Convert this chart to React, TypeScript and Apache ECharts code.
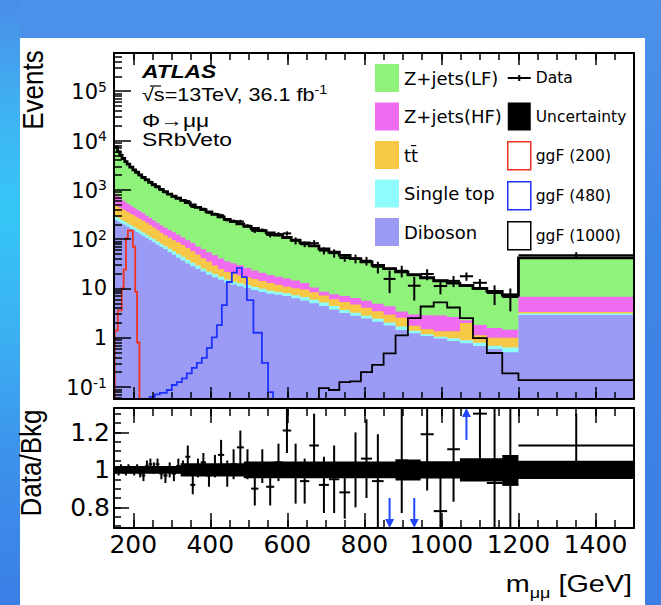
import React, { useEffect, useRef } from 'react';
import * as echarts from 'echarts';

// ---------------- data ----------------
const binEdges = [150, 159, 165, 171, 178, 184, 191, 199, 206, 214, 222, 231, 240, 249, 258, 268, 278, 289, 300, 311, 323, 335, 348, 361, 375, 389, 404, 420, 436, 452, 469, 487, 506, 525, 545, 566, 588, 610, 633, 657, 682, 708, 735, 763, 791, 820, 850, 881, 913, 946, 980, 1015, 1048, 1082, 1118, 1158, 1200, 1500];

const diboson = [241, 225, 213, 200, 188, 176, 163, 151, 139, 127, 116, 105, 95, 86, 77, 69, 62, 54, 48, 42, 37, 32, 28, 25, 22, 19, 16.9, 15.0, 13.2, 12.0, 11.1, 10.2, 9.3, 8.5, 7.8, 7.4, 7.0, 6.3, 5.7, 5.0, 4.4, 3.75, 3.18, 2.8, 2.44, 2.1, 1.77, 1.44, 1.23, 1.08, 0.96, 0.86, 0.77, 0.68, 0.59, 0.51, 2.88];
const singleTop = [42, 39, 37, 36, 33, 31, 28, 26, 24, 22, 20, 18, 16, 15, 14, 12, 10, 10, 9, 8, 7, 6, 5, 4, 3, 3, 2.6, 2.2, 1.9, 1.8, 1.6, 1.5, 1.4, 1.3, 1.2, 1.1, 1.0, 1.0, 1.0, 0.9, 0.8, 0.65, 0.48, 0.4, 0.36, 0.32, 0.27, 0.25, 0.16, 0.10, 0.09, 0.11, 0.12, 0.11, 0.10, 0.12, 0.21];
const ttbar = [198, 185, 175, 164, 154, 144, 134, 124, 116, 109, 100, 91, 82, 73, 63, 54, 48, 42, 38, 36, 32, 28, 24, 20, 16, 13, 9.5, 7.3, 6.4, 5.7, 5.5, 5.1, 4.8, 4.3, 3.9, 3.3, 2.8, 2.8, 2.8, 2.5, 2.0, 1.6, 1.64, 1.5, 1.25, 1.02, 0.9, 0.86, 0.36, 0.31, 0.31, 0.38, 1.11, 0.33, 0.31, 0.37, 0.22];
const zjetsHF = [347, 287, 246, 207, 185, 165, 148, 134, 121, 108, 97, 85, 75, 67, 61, 56, 51, 47, 42, 36, 32, 29, 26, 22, 21, 19, 18, 16.1, 14.1, 12.8, 11.3, 9.0, 7.6, 6.6, 5.8, 5.5, 5.1, 4.3, 3.4, 2.0, 1.4, 1.6, 1.7, 1.7, 1.55, 1.46, 1.4, 0.87, 1.2, 1.37, 1.46, 1.27, 0.25, 0.70, 0.58, 0.45, 3.45];
const zjetsLF = [6517, 5234, 4387, 3708, 3173, 2795, 2411, 2100, 1870, 1652, 1453, 1290, 1148, 1027, 928, 832, 747, 667, 604, 552, 503, 456, 411, 371, 334, 302, 271, 241, 215, 193, 174, 156, 141, 128, 115, 104, 92, 80.6, 70.7, 62.6, 54.8, 47.1, 40.0, 33.9, 28.8, 24.3, 20.8, 18.3, 15.95, 13.6, 11.5, 10.2, 9.15, 8.18, 7.11, 5.83, 34.9];

const dataOverBkg = [1.00, 0.99, 1.01, 1.00, 0.99, 1.01, 1.00, 0.99, 1.01, 0.98, 0.97, 1.02, 1.03, 1.01, 1.03, 0.98, 0.97, 1.00, 0.98, 1.02, 1.01, 1.07, 0.92, 1.01, 1.04, 0.97, 1.02, 1.08, 0.98, 1.03, 1.12, 1.03, 0.90, 1.02, 0.91, 1.04, 1.21, 0.98, 0.94, 1.13, 0.92, 0.95, 0.88, 1.00, 1.06, 0.94, 0.62, 1.05, 0.60, 1.19, 0.78, 1.11, 1.55, 1.30, 0.93, 0.92, 1.13];
const dataOverBkgErr = [0.02, 0.02, 0.02, 0.02, 0.02, 0.02, 0.02, 0.02, 0.02, 0.02, 0.03, 0.03, 0.03, 0.03, 0.03, 0.03, 0.04, 0.04, 0.04, 0.04, 0.04, 0.06, 0.05, 0.05, 0.05, 0.06, 0.06, 0.08, 0.07, 0.08, 0.09, 0.08, 0.09, 0.09, 0.10, 0.10, 0.12, 0.16, 0.12, 0.17, 0.15, 0.18, 0.14, 0.20, 0.21, 0.25, 0.30, 0.28, 0.30, 0.30, 0.25, 0.28, 0.30, 0.25, 0.40, 0.45, 0.17];
const bkgRelUnc = [0.021, 0.021, 0.021, 0.021, 0.021, 0.021, 0.021, 0.021, 0.021, 0.021, 0.021, 0.021, 0.021, 0.021, 0.021, 0.021, 0.021, 0.021, 0.021, 0.021, 0.035, 0.035, 0.035, 0.035, 0.035, 0.035, 0.035, 0.035, 0.035, 0.035, 0.035, 0.045, 0.045, 0.045, 0.045, 0.045, 0.045, 0.045, 0.045, 0.045, 0.045, 0.045, 0.045, 0.045, 0.045, 0.045, 0.045, 0.056, 0.056, 0.046, 0.046, 0.046, 0.062, 0.062, 0.062, 0.08, 0.049];

const ggF200Edges = [152, 160, 170, 175, 181, 186, 192, 199, 205, 210, 216];
const ggF200 = [1.4, 3.6, 10, 24, 105, 150, 148, 70, 8.5, 0.8];
const ggF480Edges = [243, 256, 269, 287, 300, 313, 326, 339, 352, 365, 378, 391, 404, 417, 430, 443, 456, 469, 482, 495, 512, 534, 550, 563];
const ggF480 = [0.063, 0.071, 0.076, 0.087, 0.11, 0.126, 0.15, 0.19, 0.245, 0.31, 0.39, 0.62, 1.02, 1.8, 4.6, 13.5, 21, 26, 17, 5.8, 1.26, 0.31, 0.079];
const ggF1000Edges = [682, 708, 735, 763, 791, 820, 850, 881, 913, 946, 980, 1015, 1048, 1082, 1118, 1158, 1200, 1500];
const ggF1000 = [0.095, 0.087, 0.126, 0.13, 0.20, 0.28, 0.48, 1.12, 2.5, 4.3, 5.2, 4.1, 2.5, 0.98, 0.49, 0.19, 0.138];

const xMajorTicks = [200, 400, 600, 800, 1000, 1200, 1400];
const xMinorTicks = [200, 250, 300, 350, 400, 450, 500, 550, 600, 650, 700, 750, 800, 850, 900, 950, 1000, 1050, 1100, 1150, 1200, 1250, 1300, 1350, 1400, 1450];
const logMajorTicks = [-1, 0, 1, 2, 3, 4, 5];
const ratioMajorTicks = [0.8, 1, 1.2];
const ratioMinorTicks = [0.7, 0.75, 0.8, 0.85, 0.9, 0.95, 1, 1.05, 1.1, 1.15, 1.2, 1.25, 1.3];

// ---------------- layout / style ----------------
const X_MIN = 150, X_MAX = 1500;
const LOG_MIN = -1.243, LOG_MAX = 5.775;
const R_MIN = 0.69, R_MAX = 1.33;
const FONT = 'DejaVu Sans';
const C = {
  lf: '#8ff27b', hf: '#ef6bef', tt: '#f6c846', st: '#8efcfc', db: '#9b9bf5',
  red: '#f0321e', blue: '#1e32ff', arrow: '#2248ff', black: '#000000',
};

const logMinorTicks: number[] = [];
for (let k = -2; k <= 5; k++) {
  for (let d = 2; d <= 9; d++) {
    const v = k + Math.log10(d);
    if (v > LOG_MIN && v < LOG_MAX) logMinorTicks.push(v);
  }
}

const nBins = binEdges.length - 1;
const cumDB = diboson.slice();
const cumST = cumDB.map((v, i) => v + singleTop[i]);
const cumTT = cumST.map((v, i) => v + ttbar[i]);
const cumHF = cumTT.map((v, i) => v + zjetsHF[i]);
const totalBkg = cumHF.map((v, i) => v + zjetsLF[i]);

const lg = (v: number) => (v > 0 ? Math.log10(v) : LOG_MIN - 1);
const cy = (y: number) => Math.max(LOG_MIN, Math.min(LOG_MAX, y));
const cr = (r: number) => Math.max(R_MIN, Math.min(R_MAX, r));

function stepFillRender(levels: number[], color: string) {
  return (_p: any, api: any) => {
    const pts: number[][] = [];
    levels.forEach((v, i) => {
      const y = cy(lg(v));
      pts.push(api.coord([binEdges[i], y]));
      pts.push(api.coord([binEdges[i + 1], y]));
    });
    pts.push(api.coord([X_MAX, LOG_MIN]));
    pts.push(api.coord([X_MIN, LOG_MIN]));
    return { type: 'polygon', shape: { points: pts }, style: { fill: color } };
  };
}

function stepLineRender(edges: number[], vals: number[], color: string) {
  return (_p: any, api: any) => {
    const pts: number[][] = [api.coord([edges[0], LOG_MIN])];
    vals.forEach((v, i) => {
      const y = cy(lg(v));
      pts.push(api.coord([edges[i], y]));
      pts.push(api.coord([edges[i + 1], y]));
    });
    const last = edges[edges.length - 1];
    if (last < X_MAX) pts.push(api.coord([last, LOG_MIN]));
    return { type: 'polyline', shape: { points: pts }, style: { stroke: color, lineWidth: 1.8, fill: null } };
  };
}

const uncUpperRender = (_p: any, api: any) => {
  const top: number[][] = [];
  const bot: number[][] = [];
  const line: number[][] = [];
  for (let i = 0; i < nBins; i++) {
    const t = totalBkg[i], u = bkgRelUnc[i];
    const yt = cy(lg(t * (1 + u))), yb = cy(lg(t * (1 - u))), y = cy(lg(t));
    top.push(api.coord([binEdges[i], yt]), api.coord([binEdges[i + 1], yt]));
    bot.push(api.coord([binEdges[i], yb]), api.coord([binEdges[i + 1], yb]));
    line.push(api.coord([binEdges[i], y]), api.coord([binEdges[i + 1], y]));
  }
  return {
    type: 'group',
    children: [
      { type: 'polygon', shape: { points: top.concat(bot.reverse()) }, style: { fill: '#000' } },
      { type: 'polyline', shape: { points: line }, style: { stroke: '#000', lineWidth: 2.8, fill: null } },
    ],
  };
};

const dataUpperRender = (_p: any, api: any) => {
  const i = api.value(2);
  const r = dataOverBkg[i];
  const n = r * totalBkg[i];
  const rel = Math.min(0.95, dataOverBkgErr[i] / r);
  const xc = (binEdges[i] + binEdges[i + 1]) / 2;
  const y = cy(lg(n));
  const a = api.coord([binEdges[i], y]);
  const b = api.coord([binEdges[i + 1], y]);
  const c1 = api.coord([xc, cy(lg(n * (1 + rel)))]);
  const c2 = api.coord([xc, cy(lg(n * (1 - rel)))]);
  const st = { stroke: '#000', lineWidth: 2 };
  return {
    type: 'group',
    children: [
      { type: 'line', shape: { x1: a[0], y1: a[1], x2: b[0], y2: b[1] }, style: st },
      { type: 'line', shape: { x1: c1[0], y1: c1[1], x2: c2[0], y2: c2[1] }, style: st },
    ],
  };
};

const uncRatioRender = (_p: any, api: any) => {
  const top: number[][] = [];
  const bot: number[][] = [];
  for (let i = 0; i < nBins; i++) {
    const u = bkgRelUnc[i];
    top.push(api.coord([binEdges[i], 1 + u]), api.coord([binEdges[i + 1], 1 + u]));
    bot.push(api.coord([binEdges[i], 1 - u]), api.coord([binEdges[i + 1], 1 - u]));
  }
  return { type: 'polygon', shape: { points: top.concat(bot.reverse()) }, style: { fill: '#000' } };
};

const dataRatioRender = (_p: any, api: any) => {
  const i = api.value(2);
  const r = dataOverBkg[i];
  if (r < R_MIN || r > R_MAX) return { type: 'group', children: [] };
  const e = dataOverBkgErr[i];
  const xc = (binEdges[i] + binEdges[i + 1]) / 2;
  const a = api.coord([binEdges[i], r]);
  const b = api.coord([binEdges[i + 1], r]);
  const c1 = api.coord([xc, cr(r + e)]);
  const c2 = api.coord([xc, cr(r - e)]);
  const st = { stroke: '#000', lineWidth: 2 };
  return {
    type: 'group',
    children: [
      { type: 'line', shape: { x1: a[0], y1: a[1], x2: b[0], y2: b[1] }, style: st },
      { type: 'line', shape: { x1: c1[0], y1: c1[1], x2: c2[0], y2: c2[1] }, style: st },
    ],
  };
};

const arrowRender = (_p: any, api: any) => {
  const i = api.value(2);
  const r = dataOverBkg[i];
  const xc = (binEdges[i] + binEdges[i + 1]) / 2;
  const down = r < R_MIN;
  const start = api.coord([xc, down ? 0.85 : 1.16]);
  const end = api.coord([xc, down ? R_MIN : R_MAX]);
  const h = down ? -9 : 9;
  return {
    type: 'group',
    children: [
      { type: 'line', shape: { x1: start[0], y1: start[1], x2: end[0], y2: end[1] + h }, style: { stroke: C.arrow, lineWidth: 2 } },
      { type: 'polygon', shape: { points: [[end[0] - 4.5, end[1] + h], [end[0] + 4.5, end[1] + h], [end[0], end[1]]] }, style: { fill: C.arrow } },
    ],
  };
};

// ---------------- axes ----------------
const axLine = { color: '#000', width: 2 };
function xAxis(gridIndex: number, position: string, ticks: number[], len: number, line: boolean, labels: boolean) {
  return {
    type: 'value', gridIndex, position, min: X_MIN, max: X_MAX, z: 10,
    axisLine: { show: line, onZero: false, lineStyle: axLine },
    axisTick: { show: true, inside: true, length: len, customValues: ticks, lineStyle: { color: '#000', width: 1.5 } },
    axisLabel: labels
      ? { show: true, customValues: xMajorTicks, margin: 4, fontSize: 25, fontFamily: FONT, color: '#000', formatter: (v: number) => String(v) }
      : { show: false },
    splitLine: { show: false },
  };
}
function yAxis(gridIndex: number, min: number, max: number, ticks: number[], len: number, line: boolean, label: any) {
  return {
    type: 'value', gridIndex, position: 'left', min, max, z: 10,
    axisLine: { show: line, onZero: false, lineStyle: axLine },
    axisTick: { show: true, inside: true, length: len, customValues: ticks, lineStyle: { color: '#000', width: 1.5 } },
    axisLabel: label || { show: false },
    splitLine: { show: false },
  };
}
function rightAxis(gridIndex: number, min: number, max: number) {
  return {
    type: 'value', gridIndex, position: 'right', min, max, z: 10,
    axisLine: { show: true, onZero: false, lineStyle: axLine },
    axisTick: { show: false }, axisLabel: { show: false }, splitLine: { show: false },
  };
}

const dataIcon = 'path://M0,0h0.05v0.05h-0.05z M0,13h23v2h-23z M10.5,11h2v6h-2z M22.95,27.95h0.05v0.05h-0.05z';

const option: any = {
  animation: false,
  grid: [
    { left: 114, top: 53, width: 520, height: 346 },
    { left: 114, top: 408, width: 520, height: 120 },
  ],
  xAxis: [
    xAxis(0, 'bottom', xMajorTicks, 12, true, false),
    xAxis(0, 'bottom', xMinorTicks, 7, false, false),
    xAxis(0, 'top', xMajorTicks, 12, true, false),
    xAxis(0, 'top', xMinorTicks, 7, false, false),
    xAxis(1, 'bottom', xMajorTicks, 15, true, true),
    xAxis(1, 'bottom', xMinorTicks, 8, false, false),
    xAxis(1, 'top', xMajorTicks, 15, true, false),
    xAxis(1, 'top', xMinorTicks, 8, false, false),
  ],
  yAxis: [
    yAxis(0, LOG_MIN, LOG_MAX, logMajorTicks, 17, true, {
      show: true, customValues: logMajorTicks, margin: 7,
      formatter: (v: number) => {
        const k = Math.round(v);
        if (k === 0) return '{b|1}';
        if (k === 1) return '{b|10}';
        return '{b|10}{s|' + k + '}';
      },
      rich: {
        b: { fontSize: 21, fontFamily: FONT, color: '#000', verticalAlign: 'bottom' },
        s: { fontSize: 14, fontFamily: FONT, color: '#000', verticalAlign: 'bottom', padding: [0, 0, 9, 0] },
      },
    }),
    yAxis(0, LOG_MIN, LOG_MAX, logMinorTicks, 8, false, null),
    rightAxis(0, LOG_MIN, LOG_MAX),
    yAxis(1, R_MIN, R_MAX, ratioMajorTicks, 15, true, {
      show: true, customValues: ratioMajorTicks, margin: 4, fontSize: 25, fontFamily: FONT, color: '#000',
      formatter: (v: number) => String(v),
    }),
    yAxis(1, R_MIN, R_MAX, ratioMinorTicks, 7, false, null),
    rightAxis(1, R_MIN, R_MAX),
  ],
  legend: [
    {
      left: 375, top: 64, padding: 0, orient: 'vertical', itemWidth: 24, itemHeight: 28, itemGap: 10.5, selectedMode: false,
      textStyle: { fontFamily: FONT, fontSize: 18, color: '#000' },
      data: [
        { name: 'Z+jets(LF)', icon: 'rect', itemStyle: { color: C.lf } },
        { name: 'Z+jets(HF)', icon: 'rect', itemStyle: { color: C.hf } },
        { name: 'tt\u0304', icon: 'rect', itemStyle: { color: C.tt } },
        { name: 'Single top', icon: 'rect', itemStyle: { color: C.st } },
        { name: 'Diboson', icon: 'rect', itemStyle: { color: C.db } },
      ],
    },
    {
      left: 507, top: 64, padding: 0, orient: 'vertical', itemWidth: 23, itemHeight: 28, itemGap: 10.5, selectedMode: false,
      textStyle: { fontFamily: FONT, fontSize: 15.5, color: '#000' },
      data: [
        { name: 'Data', icon: dataIcon, itemStyle: { color: '#000' } },
        { name: 'Uncertainty', icon: 'rect', itemStyle: { color: '#000' } },
        { name: 'ggF (200)', icon: 'rect', itemStyle: { color: '#fff', borderColor: C.red, borderWidth: 1.5 } },
        { name: 'ggF (480)', icon: 'rect', itemStyle: { color: '#fff', borderColor: C.blue, borderWidth: 1.5 } },
        { name: 'ggF (1000)', icon: 'rect', itemStyle: { color: '#fff', borderColor: '#000', borderWidth: 1.5 } },
      ],
    },
  ],
  series: [
    { type: 'custom', name: 'Z+jets(LF)', xAxisIndex: 0, yAxisIndex: 0, data: [[1000, 1]], renderItem: stepFillRender(totalBkg, C.lf), itemStyle: { color: C.lf }, z: 1, silent: true },
    { type: 'custom', name: 'Z+jets(HF)', xAxisIndex: 0, yAxisIndex: 0, data: [[1000, 1]], renderItem: stepFillRender(cumHF, C.hf), itemStyle: { color: C.hf }, z: 1, silent: true },
    { type: 'custom', name: 'tt\u0304', xAxisIndex: 0, yAxisIndex: 0, data: [[1000, 1]], renderItem: stepFillRender(cumTT, C.tt), itemStyle: { color: C.tt }, z: 1, silent: true },
    { type: 'custom', name: 'Single top', xAxisIndex: 0, yAxisIndex: 0, data: [[1000, 1]], renderItem: stepFillRender(cumST, C.st), itemStyle: { color: C.st }, z: 1, silent: true },
    { type: 'custom', name: 'Diboson', xAxisIndex: 0, yAxisIndex: 0, data: [[1000, 1]], renderItem: stepFillRender(cumDB, C.db), itemStyle: { color: C.db }, z: 1, silent: true },
    { type: 'custom', name: 'Uncertainty', xAxisIndex: 0, yAxisIndex: 0, data: [[1000, 1]], renderItem: uncUpperRender, itemStyle: { color: '#000' }, z: 2, silent: true },
    { type: 'custom', name: 'ggF (200)', xAxisIndex: 0, yAxisIndex: 0, data: [[1000, 1]], renderItem: stepLineRender(ggF200Edges, ggF200, C.red), itemStyle: { color: C.red }, z: 3, silent: true },
    { type: 'custom', name: 'ggF (480)', xAxisIndex: 0, yAxisIndex: 0, data: [[1000, 1]], renderItem: stepLineRender(ggF480Edges, ggF480, C.blue), itemStyle: { color: C.blue }, z: 3, silent: true },
    { type: 'custom', name: 'ggF (1000)', xAxisIndex: 0, yAxisIndex: 0, data: [[1000, 1]], renderItem: stepLineRender(ggF1000Edges, ggF1000, '#000'), itemStyle: { color: '#000' }, z: 3, silent: true },
    {
      type: 'custom', name: 'Data', xAxisIndex: 0, yAxisIndex: 0, z: 4, silent: true, itemStyle: { color: '#000' },
      data: dataOverBkg.map((r, i) => [(binEdges[i] + binEdges[i + 1]) / 2, cy(lg(r * totalBkg[i])), i]),
      renderItem: dataUpperRender,
    },
    { type: 'custom', name: 'Ratio uncertainty', xAxisIndex: 4, yAxisIndex: 3, data: [[1000, 1]], renderItem: uncRatioRender, itemStyle: { color: '#000' }, z: 2, silent: true },
    {
      type: 'custom', name: 'Data/Bkg', xAxisIndex: 4, yAxisIndex: 3, z: 4, silent: true, itemStyle: { color: '#000' },
      data: dataOverBkg.map((r, i) => [(binEdges[i] + binEdges[i + 1]) / 2, cr(r), i]),
      renderItem: dataRatioRender,
    },
    {
      type: 'custom', name: 'Out of range', xAxisIndex: 4, yAxisIndex: 3, z: 5, silent: true, itemStyle: { color: C.arrow },
      data: dataOverBkg.map((r, i) => [(binEdges[i] + binEdges[i + 1]) / 2, cr(r), i]).filter((d) => dataOverBkg[d[2]] < R_MIN || dataOverBkg[d[2]] > R_MAX),
      renderItem: arrowRender,
    },
  ],
  graphic: [
    { type: 'text', x: 142, y: 71.5, scaleX: 1.2, silent: true, style: { text: 'ATLAS', fill: '#000', fontFamily: 'Liberation Sans', fontSize: 19, fontWeight: 'bold', fontStyle: 'italic', align: 'left', verticalAlign: 'middle' } },
    {
      type: 'text', x: 142, y: 94, scaleX: 1.2, silent: true,
      style: {
        text: '{n|\u221As=13TeV, 36.1 fb}{p|-1}', fill: '#000', align: 'left', verticalAlign: 'middle',
        rich: {
          n: { fontFamily: 'Liberation Sans', fontSize: 18, fill: '#000', verticalAlign: 'bottom' },
          p: { fontFamily: 'Liberation Sans', fontSize: 12, fill: '#000', verticalAlign: 'bottom', padding: [0, 0, 8, 0] },
        },
      },
    },
    { type: 'line', silent: true, shape: { x1: 150, y1: 86, x2: 161, y2: 86 }, style: { stroke: '#000', lineWidth: 1.2 } },
    { type: 'text', x: 142, y: 120, scaleX: 1.2, silent: true, style: { text: '\u03A6\u2192\u03BC\u03BC', fill: '#000', fontFamily: 'Liberation Sans', fontSize: 19, align: 'left', verticalAlign: 'middle' } },
    { type: 'text', x: 142, y: 139, scaleX: 1.2, silent: true, style: { text: 'SRbVeto', fill: '#000', fontFamily: 'Liberation Sans', fontSize: 19, align: 'left', verticalAlign: 'middle' } },
    { type: 'text', x: 33, y: 90, rotation: Math.PI / 2, scaleY: 1.15, silent: true, style: { text: 'Events', fill: '#000', fontFamily: 'Liberation Sans', fontSize: 26, align: 'center', verticalAlign: 'middle' } },
    { type: 'text', x: 31, y: 463, rotation: Math.PI / 2, scaleY: 1.1, silent: true, style: { text: 'Data/Bkg', fill: '#000', fontFamily: 'Liberation Sans', fontSize: 26, align: 'center', verticalAlign: 'middle' } },
    {
      type: 'text', x: 632, y: 586, scaleX: 1.2, silent: true,
      style: {
        text: '{m|m}{u|\u03BC\u03BC}{m| [GeV]}', fill: '#000', align: 'right', verticalAlign: 'middle',
        rich: {
          m: { fontFamily: 'Liberation Sans', fontSize: 24, fill: '#000', verticalAlign: 'bottom', padding: [0, 0, 5, 0] },
          u: { fontFamily: 'Liberation Sans', fontSize: 15, fill: '#000', verticalAlign: 'bottom' },
        },
      },
    },
  ],
};

export default function App() {
  const ref = useRef<HTMLDivElement>(null);
  useEffect(() => {
    const chart = echarts.init(ref.current as HTMLDivElement, null, { renderer: 'svg' });
    chart.setOption(option);
    return () => chart.dispose();
  }, []);
  return (
    <div
      style={{
        position: 'absolute', left: 0, top: 0, width: 661, height: 605, overflow: 'hidden',
        background: 'linear-gradient(180deg, #4d92ea 0%, #3e86e6 40%, #3b7fe4 100%)',
      }}
    >
      <div
        style={{
          position: 'absolute', left: 0, top: 0, width: 20, height: 605,
          background: 'linear-gradient(180deg, #4a8de8 0%, #3fb2f2 18%, #36c6f6 35%, #3bb0f2 55%, #3d92ec 75%, #3a7ee6 100%)',
        }}
      />
      <div style={{ position: 'absolute', left: 20, top: 38, width: 625, height: 567, background: '#ffffff' }} />
      <div ref={ref} style={{ position: 'absolute', left: 0, top: 0, width: 661, height: 605 }} />
    </div>
  );
}
